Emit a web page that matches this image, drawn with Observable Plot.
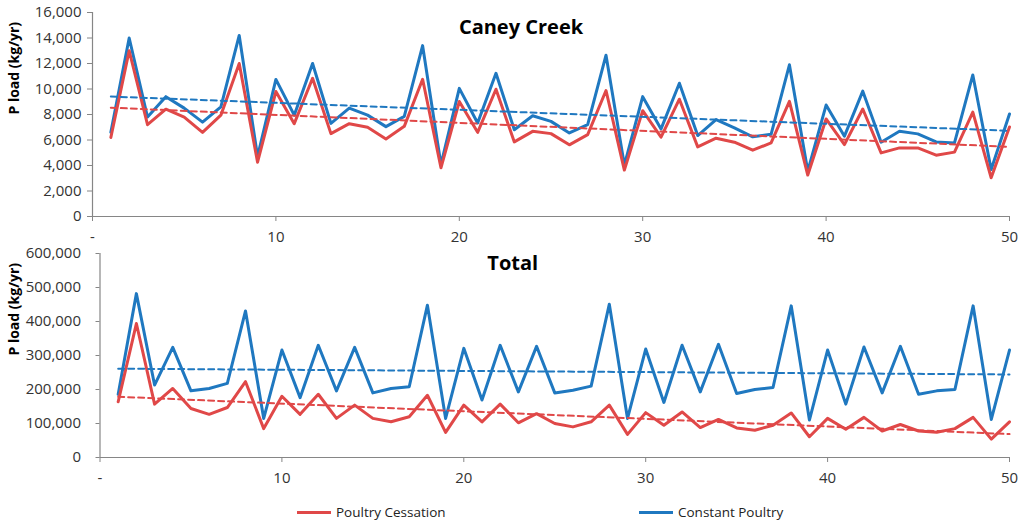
<!DOCTYPE html>
<html><head><meta charset="utf-8">
<script src="https://cdn.jsdelivr.net/npm/d3@7"></script>
<script src="https://cdn.jsdelivr.net/npm/@observablehq/plot@0.6"></script>
<style>
body{margin:0;background:#fff;font-family:"Open Sans",sans-serif;}
#wrap{width:1024px;height:526px;position:relative;overflow:hidden;background:#fff}
#wrap svg{display:block;overflow:visible}
.leg{position:absolute;top:500px;height:24px;display:flex;align-items:center;font-size:13.5px;color:#222}
.leg span.sw{display:inline-block;width:34px;height:3px;margin-right:5px}
</style></head><body>
<div id="wrap"><div id="c1"></div><div id="c2"></div>
<div class="leg" style="left:297px"><span class="sw" style="background:#e04848"></span>Poultry Cessation</div>
<div class="leg" style="left:639px"><span class="sw" style="background:#1f78c0"></span>Constant Poultry</div>
</div>
<script>
const BLUE = "#1f78c0", RED = "#e04848";
const years = [1,2,3,4,5,6,7,8,9,10,11,12,13,14,15,16,17,18,19,20,21,22,23,24,25,26,27,28,29,30,31,32,33,34,35,36,37,38,39,40,41,42,43,44,45,46,47,48,49,50];
const xTicks = [0,10,20,30,40,50];
const caneyTicks = [0,2000,4000,6000,8000,10000,12000,14000,16000];
const totalTicks = [0,100000,200000,300000,400000,500000,600000];

const caneyConstant = [6600,14000,7800,9400,8500,7400,8600,14200,4700,10750,7950,12000,7300,8500,7950,7050,7850,13400,4080,10050,7330,11230,6800,7900,7460,6550,7200,12650,4030,9400,6870,10450,6350,7600,6950,6250,6450,11900,3560,8740,6300,9830,5830,6680,6480,5850,5770,11100,3690,8040];
const caneyCessation = [6200,13000,7200,8420,7800,6600,7950,12000,4260,9800,7280,10840,6500,7280,7000,6080,7070,10760,3820,9020,6600,9980,5850,6680,6500,5620,6420,9880,3640,8300,6220,9200,5460,6140,5830,5200,5770,9030,3250,7650,5640,8430,4990,5380,5380,4810,5050,8190,3040,7020];

const totalConstant = [186000,482000,213000,324000,196000,203000,218000,431000,115000,316000,176000,330000,196000,324000,190000,203000,208000,448000,115000,321000,169000,330000,193000,327000,190000,198000,210000,451000,115000,319000,162000,330000,193000,333000,188000,200000,206000,446000,110000,316000,157000,325000,190000,327000,186000,196000,200000,446000,112000,316000];
const totalCessation = [164000,394000,157000,203000,144000,127000,147000,223000,85000,180000,127000,186000,115000,154000,115000,105000,120000,183000,74000,154000,105000,157000,102000,129000,100000,90000,105000,154000,68000,132000,95000,134000,88000,112000,87000,80000,95000,131000,61000,115000,83000,118000,78000,97000,78000,74000,85000,118000,54000,105000];

function chart(o){
  const b = years.map((x,i)=>({x, v:o.blue[i]}));
  const r = years.map((x,i)=>({x, v:o.red[i]}));
  return Plot.plot({
    width:1024, height:245,
    marginTop:o.mt, marginBottom:o.mb, marginLeft:o.ml, marginRight:15,
    x:{domain:[0,50]}, y:{domain:[0,o.yMax]},
    style:{fontFamily:"'Open Sans', sans-serif", fontSize:"15px", color:"#333", background:"transparent"},
    marks:[
      Plot.axisY({ticks:o.yTicks, tickFormat:d3.format(","), tickSize:o.ts, tickPadding:o.tp, stroke:"#868686", fill:"#333", label:null, fontSize:15}),
      Plot.axisX({ticks:xTicks, tickFormat:d=>d===0?"-":String(d), tickSize:5, tickPadding:10, stroke:"#868686", fill:"#333", label:null, fontSize:15}),
      Plot.ruleX([0],{stroke:"#868686", strokeWidth:1.2}),
      Plot.ruleY([0],{stroke:"#868686", strokeWidth:1.2}),
      Plot.line(b,{x:"x", y:"v", stroke:BLUE, strokeWidth:3}),
      Plot.line(r,{x:"x", y:"v", stroke:RED, strokeWidth:3}),
      Plot.linearRegressionY(b,{x:"x", y:"v", stroke:BLUE, strokeWidth:2, strokeDasharray:"6,4", ci:0}),
      Plot.linearRegressionY(r,{x:"x", y:"v", stroke:RED, strokeWidth:2, strokeDasharray:"6,4", ci:0}),
      Plot.text([o.title],{frameAnchor:"top", dx:o.tdx, dy:o.tdy, lineAnchor:"middle", fontWeight:"bold", fontSize:20, fill:"#000"}),
      Plot.text(["P load (kg/yr)"],{frameAnchor:"left", rotate:-90, dx:o.ldx, fontWeight:"bold", fontSize:14, fill:"#000"})
    ]
  });
}

document.getElementById("c1").append(chart({
  blue:caneyConstant, red:caneyCessation, yMax:16000, yTicks:caneyTicks,
  mt:12, mb:29, ml:92, ts:5, tp:6, title:"Caney Creek", tdx:-30, tdy:15, ldx:-78
}));
document.getElementById("c2").append(chart({
  blue:totalConstant, red:totalCessation, yMax:600000, yTicks:totalTicks,
  mt:8, mb:33, ml:99.5, ts:4, tp:15, title:"Total", tdx:-42, tdy:10, ldx:-85.5
}));
</script>
</body></html>
